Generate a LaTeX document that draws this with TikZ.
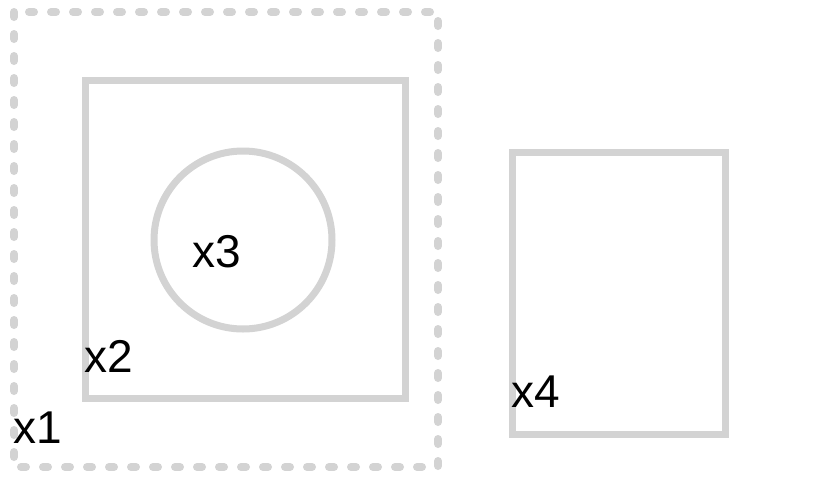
\documentclass[tikz,border=0pt]{standalone}
\usepackage{fontspec}
\setmainfont{Liberation Sans}
\usetikzlibrary{positioning}
\definecolor{shapegray}{HTML}{D3D3D3}

\begin{document}
\begin{tikzpicture}[x=1pt, y=-1pt,
    frame/.style={draw=shapegray, line width=7pt, fill=none},
    dotframe/.style={draw=shapegray, line width=8pt, line cap=round,
                     dash pattern=on 5pt off 17pt},
    lbl/.style={anchor=base west, inner sep=0pt, font=\fontsize{46}{50}\selectfont}
]
  \useasboundingbox (0,0) rectangle (822,477);
  % outer dotted group
  \draw[dotframe] (14,12) rectangle (438,467);
  \node[lbl] (x1) at (13,443) {x1};
  % inner square and circle
  \draw[frame] (85,80) rectangle (405,398);
  \node[lbl] (x2) at (84,372) {x2};
  \draw[frame] (243,240) circle (89);
  \node[lbl] (x3) at (192,267) {x3};
  % lone rectangle
  \draw[frame] (512,152) rectangle (725,434);
  \node[lbl] (x4) at (511,407) {x4};
\end{tikzpicture}
\end{document}
